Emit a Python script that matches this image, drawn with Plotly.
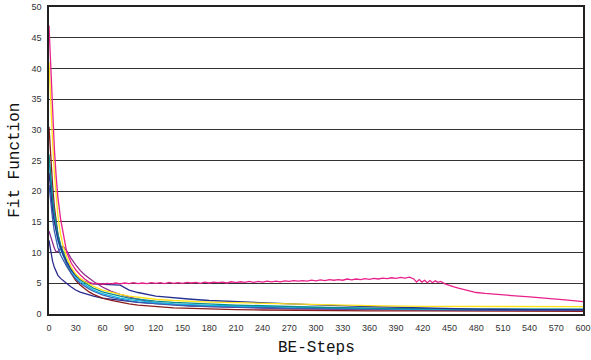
import plotly.graph_objects as go

steps = [0, 2, 4, 6, 8, 10, 13, 16, 20, 25, 30, 35, 40, 45, 50, 60, 70, 80, 90, 100,
         120, 140, 160, 180, 210, 240, 270, 300, 360, 420, 480, 540, 600]

yellow = [41, 34, 28, 23, 19, 16, 13, 11, 9.2, 7.6, 6.5, 5.8, 5.3, 4.9, 4.5, 3.9, 3.5, 3.2, 2.9, 2.7,
          2.4, 2.2, 2.05, 1.95, 1.85, 1.75, 1.6, 1.5, 1.35, 1.25, 1.2, 1.2, 1.2]
dark_red = [30.5, 25, 21, 17.5, 15, 13, 11, 9.6, 8, 6.6, 5.5, 4.7, 4.1, 3.6, 3.2, 2.6, 2.2, 1.9, 1.65, 1.45,
            1.2, 1.0, 0.9, 0.8, 0.7, 0.65, 0.6, 0.55, 0.5, 0.5, 0.45, 0.45, 0.45]
teal = [26, 22, 19, 16.5, 14.5, 13, 11.3, 10, 8.6, 7.3, 6.3, 5.6, 5.1, 4.6, 4.2, 3.6, 3.2, 2.9, 2.6, 2.4,
        2.1, 1.9, 1.75, 1.6, 1.45, 1.35, 1.2, 1.1, 0.95, 0.85, 0.8, 0.8, 0.8]
cyan = [25, 21, 18, 15.5, 13.5, 12, 10.5, 9.4, 8.2, 7.0, 6.0, 5.3, 4.8, 4.3, 3.9, 3.3, 2.9, 2.6, 2.35, 2.15,
        1.85, 1.65, 1.5, 1.4, 1.3, 1.2, 1.1, 1.0, 0.9, 0.8, 0.75, 0.75, 0.75]
steel_blue = [21, 18, 15.5, 13.5, 12, 10.8, 9.6, 8.7, 7.7, 6.6, 5.7, 5.0, 4.5, 4.1, 3.7, 3.1, 2.7, 2.4, 2.15, 1.95,
              1.65, 1.45, 1.3, 1.2, 1.1, 1.0, 0.9, 0.85, 0.75, 0.7, 0.65, 0.65, 0.65]
navy_step = [23, 19.5, 17, 15, 13.5, 12.2, 10.8, 9.6, 8.4, 7.2, 6.3, 5.7, 5.3, 5.0, 4.9, 4.85, 4.8, 4.7, 3.9, 3.5,
             2.9, 2.6, 2.4, 2.2, 2.0, 1.85, 1.65, 1.5, 1.2, 0.95, 0.8, 0.7, 0.7]
purple = [13.5, 12.5, 11.5, 10.7, 10.1, 10.2, 10.7, 11.0, 10.3, 9.0, 8.0, 7.1, 6.4, 5.8, 5.3, 4.4, 3.7, 3.2, 2.8, 2.4,
          1.8, 1.5, 1.3, 1.2, 1.05, 0.95, 0.85, 0.8, 0.7, 0.65, 0.6, 0.6, 0.6]
navy_fast = [12, 10, 8.6, 7.6, 6.9, 6.3, 5.8, 5.4, 4.95, 4.4, 3.9, 3.55, 3.3, 3.1, 2.9, 2.6, 2.4, 2.2, 2.05, 1.9,
             1.7, 1.5, 1.4, 1.3, 1.15, 1.05, 0.95, 0.9, 0.8, 0.7, 0.65, 0.65, 0.65]

magenta_steps = [0, 2, 4, 6, 8, 10, 13, 16, 20, 25, 30, 35, 40, 45,
                 50, 55, 60, 65, 70, 75, 80, 85, 90, 95, 100, 105, 110, 115, 120, 125, 130, 135, 140, 145,
                 150, 155, 160, 165, 170, 175, 180, 185, 190, 195, 200, 205, 210, 215, 220, 225, 230, 235,
                 240, 245, 250, 255, 260, 265, 270, 275, 280, 285, 290, 295, 300, 305, 310, 315, 320, 325,
                 330, 335, 340, 345, 350, 355, 360, 365, 370, 375, 380, 385, 390, 395, 400, 405, 410,
                 413, 416, 419, 422, 425, 428, 431, 434, 437, 440, 445, 450, 455, 460, 470, 480, 490, 500,
                 520, 540, 560, 580, 600]
magenta = [47, 40, 33, 27, 22.5, 19, 15.5, 13, 10, 8.3, 7.2, 6.4, 5.7, 5.2,
           4.9, 5.0, 4.85, 5.0, 4.9, 5.05, 4.9, 5.05, 4.95, 5.1, 4.95, 5.05, 4.95, 5.1, 5.0, 5.1, 4.95, 5.15, 5.0, 5.1,
           5.0, 5.15, 5.05, 5.15, 5.0, 5.2, 5.05, 5.2, 5.1, 5.2, 5.05, 5.25, 5.1, 5.25, 5.15, 5.3, 5.15, 5.3,
           5.2, 5.35, 5.25, 5.35, 5.25, 5.4, 5.3, 5.45, 5.35, 5.45, 5.35, 5.5, 5.4, 5.55, 5.45, 5.6, 5.5, 5.6,
           5.5, 5.7, 5.55, 5.7, 5.6, 5.75, 5.65, 5.8, 5.7, 5.85, 5.75, 5.9, 5.8, 5.95, 5.85, 6.0, 5.7,
           5.2, 5.6, 5.2, 5.5, 5.1, 5.45, 5.1, 5.4, 5.15, 5.3, 4.9, 4.6, 4.4, 4.2, 3.9, 3.5, 3.35, 3.2,
           3.0, 2.8, 2.6, 2.3, 2.0]

x_ticks = list(range(0, 601, 30))
y_ticks = list(range(0, 51, 5))

series = [
    ("navy_fast", steps, navy_fast, "#2A2A8F"),
    ("purple", steps, purple, "#8E2C8E"),
    ("dark_red", steps, dark_red, "#8B1C1C"),
    ("steel_blue", steps, steel_blue, "#3A5FB0"),
    ("cyan", steps, cyan, "#12B5E5"),
    ("teal", steps, teal, "#0A8C8C"),
    ("navy_step", steps, navy_step, "#25308F"),
    ("yellow", steps, yellow, "#FFE21A"),
    ("magenta", magenta_steps, magenta, "#E8208A"),
]

fig = go.Figure()
for name, xs, ys, col in series:
    fig.add_trace(go.Scatter(x=xs, y=ys, mode="lines", name=name,
                             line=dict(color=col, width=1.3)))

fig.update_layout(
    width=591, height=360,
    margin=dict(l=49, r=8, t=7, b=46, autoexpand=False),
    paper_bgcolor="white", plot_bgcolor="white",
    showlegend=False,
    font=dict(family="Liberation Sans, Arial", size=9, color="#333333"),
    annotations=[
        dict(text="BE-Steps", xref="paper", yref="paper", x=0.5, y=-0.11,
             xanchor="center", yanchor="middle", showarrow=False,
             font=dict(family="Liberation Mono", size=16, color="#111111")),
        dict(text="Fit Function", xref="paper", yref="paper", x=-0.065, y=0.5,
             xanchor="center", yanchor="middle", showarrow=False, textangle=-90,
             font=dict(family="Liberation Mono", size=16, color="#111111")),
    ],
)
fig.update_xaxes(range=[0, 600], tickvals=x_ticks, showgrid=False, zeroline=False,
                 showline=True, linecolor="#222222", linewidth=1.5, mirror=True,
                 ticks="", ticklabelstandoff=4, automargin=False,
                 tickfont=dict(size=9, color="#333333"))
fig.update_yaxes(range=[0, 50], tickvals=y_ticks, showgrid=True, gridcolor="#333333", gridwidth=1.2,
                 zeroline=False, showline=True, linecolor="#222222", linewidth=1.5, mirror=True,
                 ticks="", ticklabelstandoff=4, automargin=False,
                 tickfont=dict(size=9, color="#333333"))

fig.write_html("out.html", config={"displayModeBar": False},
               post_script="document.body.style.margin='0';")
